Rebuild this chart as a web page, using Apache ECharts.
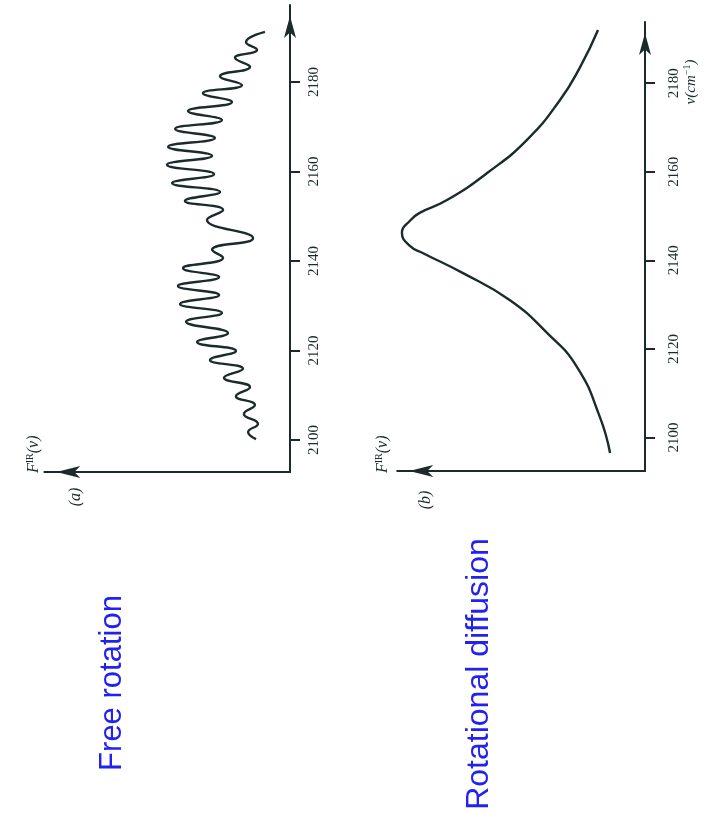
<!DOCTYPE html>
<html>
<head>
<meta charset="utf-8">
<script src="https://cdn.jsdelivr.net/npm/echarts@6/dist/echarts.min.js"></script>
<style>
  html, body { margin: 0; padding: 0; background: #ffffff; }
  #chart { width: 707px; height: 817px; }
</style>
</head>
<body>
<div id="chart"></div>
<script>
// (a) Free rotation: wavenumber (cm^-1) and relative intensity along the trace
const freeNu = [2100.2, 2101.8, 2103.6, 2105.8, 2107.8, 2109.8, 2111.8, 2113.9, 2115.9, 2117.9,
  2119.9, 2121.9, 2123.9, 2126.4, 2128.4, 2130.4, 2132.4, 2134.4, 2136.4, 2138.4, 2140.7,
  2142.5, 2145.1, 2149.2, 2151.4, 2153.4, 2155.4, 2157.4, 2159.4, 2161.5, 2163.5,
  2165.5, 2167.5, 2169.5, 2171.5, 2173.5, 2175.5, 2177.5, 2179.3, 2181.3, 2183.4,
  2185.4, 2187.2, 2188.9, 2191.2];
const freeI = [14.5, 17.9, 13.7, 19.7, 15.0, 23.1, 17.1, 28.2, 20.1, 34.2,
  23.1, 39.7, 26.5, 44.4, 29.1, 47.0, 30.3, 47.9, 30.3, 45.7, 28.6,
  33.3, 15.8, 35.5, 28.6, 44.9, 29.9, 50.4, 32.5, 52.6, 33.3,
  52.1, 32.1, 49.1, 29.1, 43.6, 24.8, 37.2, 20.5, 29.9, 17.1,
  23.5, 14.1, 18.8, 10.7];

// (b) Rotational diffusion: a single broadened band
const diffNu = [2096.5, 2104.6, 2115.9, 2123.6, 2131.0, 2137.1, 2141.6, 2143.2, 2146.2, 2149.0,
  2150.7, 2153.6, 2159.7, 2167.2, 2176.2, 2183.6, 2192.0];
const diffI = [14.8, 19.1, 28.8, 41.5, 57.2, 77.1, 94.0, 99.5, 103.0, 99.5,
  95.5, 83.9, 66.9, 50.0, 36.0, 27.5, 19.9];

// Wavenumber tick labels
const nuTicks = [2100, 2120, 2140, 2160, 2180];

const INK = '#1b2b2b';
const pair = (xs, ys) => xs.map((v, i) => [ys[i], v]);

// Intensity axis: horizontal, growing to the left, arrow head at its far end
function intensityAxis(gridIndex) {
  return {
    type: 'value', gridIndex, inverse: true, min: 0, max: 105,
    axisLine: { show: true, onZero: false, symbol: ['arrow', 'none'], symbolSize: [9, 24],
      symbolOffset: [12, 0], lineStyle: { color: INK, width: 2 } },
    axisTick: { show: false }, axisLabel: { show: false }, splitLine: { show: false }
  };
}

// Wavenumber axis: vertical, on the right of each panel, labels turned a quarter
function nuAxis(gridIndex, min, max, margin) {
  return {
    type: 'value', gridIndex, position: 'right', min, max,
    axisLine: { show: true, onZero: false, symbol: ['none', 'arrow'], symbolSize: [9, 22],
      symbolOffset: [0, -11], lineStyle: { color: INK, width: 2 } },
    axisTick: { show: true, inside: false, length: 10, customValues: nuTicks,
      lineStyle: { color: INK, width: 2 } },
    axisLabel: { show: true, customValues: nuTicks, rotate: 90, margin,
      formatter: (v) => String(v),
      color: INK, fontFamily: 'Liberation Serif', fontSize: 15 },
    splitLine: { show: false }
  };
}

const chart = echarts.init(document.getElementById('chart'), null, { renderer: 'canvas' });

const richItalic = {
  f: { font: 'italic 16px "Liberation Serif"', fill: INK },
  s: { font: '10px "Liberation Serif"', fill: INK, verticalAlign: 'top', padding: [0, 0, 7, 0] }
};

const firLabel = (x) => ({
  type: 'text', x, y: 473, rotation: Math.PI / 2,
  style: { text: '{f|F}{s|IR}{f|(ν)}', fill: INK, align: 'left', verticalAlign: 'middle', rich: richItalic }
});

chart.setOption({
  backgroundColor: '#ffffff',
  animation: false,
  grid: [
    { left: 44.3, right: 417, top: 5, bottom: 345 },
    { left: 397.2, right: 62, top: 22, bottom: 346 }
  ],
  xAxis: [intensityAxis(0), intensityAxis(1)],
  yAxis: [nuAxis(0, 2092.85, 2197.2, 17), nuAxis(1, 2092.44, 2193.8, 22)],
  series: [
    { type: 'line', xAxisIndex: 0, yAxisIndex: 0, data: pair(freeNu, freeI),
      smooth: 0.5, showSymbol: false, clip: false,
      lineStyle: { color: INK, width: 2.4 } },
    { type: 'line', xAxisIndex: 1, yAxisIndex: 1, data: pair(diffNu, diffI),
      smooth: 0.5, showSymbol: false, clip: false,
      lineStyle: { color: INK, width: 2.4 } }
  ],
  graphic: [
    { type: 'text', x: 112, y: 683, rotation: Math.PI / 2,
      style: { text: 'Free rotation', fill: '#2222ee', font: '31px "Liberation Sans"',
        align: 'center', verticalAlign: 'middle' } },
    { type: 'text', x: 479, y: 674, rotation: Math.PI / 2,
      style: { text: 'Rotational diffusion', fill: '#2222ee', font: '32px "Liberation Sans"',
        align: 'center', verticalAlign: 'middle' } },
    { type: 'text', x: 76, y: 497, rotation: Math.PI / 2,
      style: { text: '(a)', fill: INK, font: 'italic 16px "Liberation Serif"',
        align: 'center', verticalAlign: 'middle' } },
    { type: 'text', x: 426, y: 500, rotation: Math.PI / 2,
      style: { text: '(b)', fill: INK, font: 'italic 16px "Liberation Serif"',
        align: 'center', verticalAlign: 'middle' } },
    firLabel(34),
    firLabel(383),
    { type: 'text', x: 691, y: 82, rotation: Math.PI / 2,
      style: { text: '{f|ν(cm}{s|−1}{f|)}', fill: INK, align: 'center', verticalAlign: 'middle',
        rich: {
          f: { font: 'italic 15px "Liberation Serif"', fill: INK },
          s: { font: '10px "Liberation Serif"', fill: INK, verticalAlign: 'top', padding: [0, 0, 7, 0] }
        } } }
  ]
});
</script>
</body>
</html>
